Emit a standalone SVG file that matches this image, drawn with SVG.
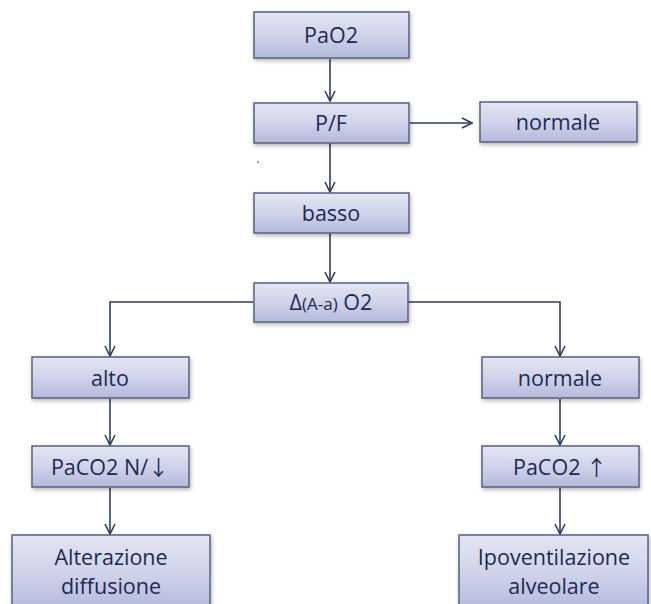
<svg xmlns="http://www.w3.org/2000/svg" width="651" height="604" viewBox="0 0 651 604">
<defs>
<linearGradient id="g" x1="0" y1="0" x2="0" y2="1">
<stop offset="0" stop-color="#e4e6f3"/>
<stop offset="0.5" stop-color="#d0d3ea"/>
<stop offset="1" stop-color="#b4b9dc"/>
</linearGradient>
<filter id="sh" x="-10%" y="-10%" width="120%" height="130%">
<feGaussianBlur in="SourceAlpha" stdDeviation="2"/>
<feOffset dx="1" dy="2" result="b"/>
<feComponentTransfer><feFuncA type="linear" slope="0.3"/></feComponentTransfer>
<feMerge><feMergeNode/><feMergeNode in="SourceGraphic"/></feMerge>
</filter>
<marker id="ah" viewBox="0 0 12 12" refX="11" refY="6" markerWidth="12" markerHeight="12" markerUnits="userSpaceOnUse" orient="auto">
<path d="M1,1 L11,6 L1,11" fill="none" stroke="#2f3d5e" stroke-width="1.6"/>
</marker>
</defs>
<style>
.box{fill:url(#g);stroke:#56617f;stroke-width:1.5;filter:url(#sh)}
.t{font-family:"Open Sans","Liberation Sans",sans-serif;font-size:21.5px;fill:#1c2a52;text-anchor:middle}
.ar{font-family:"Noto Sans CJK SC",sans-serif;font-size:21px}
.c{fill:none;stroke:#2f3d5e;stroke-width:1.6;marker-end:url(#ah)}
</style>
<rect width="651" height="604" fill="#ffffff"/>
<g id="connectors">
<path class="c" d="M330,59 V101"/>
<path class="c" d="M410,123 H472"/>
<path class="c" d="M330,143 V192"/>
<path class="c" d="M330,233 V282"/>
<path class="c" d="M253,302 H110 V356"/>
<path class="c" d="M408,302 H560 V356"/>
<path class="c" d="M110,399 V445"/>
<path class="c" d="M560,399 V445"/>
<path class="c" d="M110,488 V534"/>
<path class="c" d="M560,488 V534"/>
</g>
<circle cx="268" cy="124" r="1.2" fill="#a0a0a8"/>
<circle cx="258" cy="162" r="1.2" fill="#a0a0a8"/>
<g id="n-pao2"><rect class="box" x="254" y="12" width="155" height="46"/><text class="t" x="331" y="43">PaO2</text></g>
<g id="n-pf"><rect class="box" x="254" y="103" width="155" height="40"/><text class="t" x="331" y="131">P/F</text></g>
<g id="n-normale1"><rect class="box" x="480" y="102" width="157" height="40"/><text class="t" x="558" y="130">normale</text></g>
<g id="n-basso"><rect class="box" x="254" y="193" width="155" height="40"/><text class="t" x="331" y="221">basso</text></g>
<g id="n-delta"><rect class="box" x="254" y="283" width="154" height="39"/><text class="t" x="331" y="310">Δ<tspan font-size="17">(A-a)</tspan> O2</text></g>
<g id="n-alto"><rect class="box" x="32" y="357" width="157" height="41"/><text class="t" x="110" y="386">alto</text></g>
<g id="n-normale2"><rect class="box" x="482" y="357" width="157" height="41"/><text class="t" x="560" y="386">normale</text></g>
<g id="n-paco2a"><rect class="box" x="32" y="446" width="157" height="41"/><text class="t" x="110" y="475">PaCO2 N/<tspan class="ar">↓</tspan></text></g>
<g id="n-paco2b"><rect class="box" x="482" y="446" width="157" height="41"/><text class="t" x="560" y="475">PaCO2 <tspan class="ar">↑</tspan></text></g>
<g id="n-alterazione"><rect class="box" x="12" y="535" width="198" height="75"/><text class="t" x="111" y="565">Alterazione</text><text class="t" x="111" y="594">diffusione</text></g>
<g id="n-ipo"><rect class="box" x="459" y="535" width="189" height="75"/><text class="t" x="554" y="565">Ipoventilazione</text><text class="t" x="554" y="594">alveolare</text></g>
</svg>
